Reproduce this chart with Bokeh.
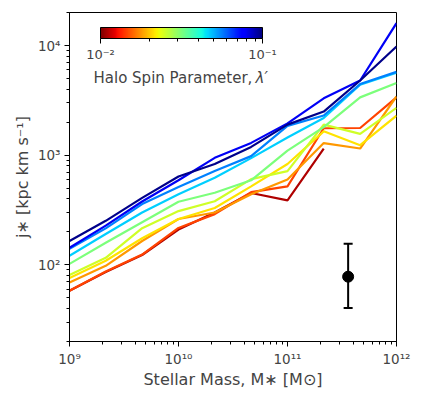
import numpy as np
from bokeh.plotting import figure
from bokeh.models import (ColorBar, LogColorMapper, FixedTicker, CustomJSTickFormatter,
                          Label, Whisker, TeeHead, ColumnDataSource)
from bokeh.embed import file_html
from bokeh.resources import INLINE

nan = float("nan")

# ---- data ----
stellar_mass = [1e9, 2.15e9, 4.64e9, 1e10, 2.15e10, 4.64e10, 1e11, 2.15e11, 4.64e11, 1e12]

spin_values = [0.011, 0.0145, 0.0178, 0.0214, 0.025, 0.0316, 0.047, 0.056, 0.079, 0.098]

j_dark_red    = [58, 86, 123, 210, 300, 452, 387, 1150, nan, nan]
j_red         = [58, 87, 124, 217, 290, 460, 520, 1760, 1770, 3365]
j_orange      = [69, 98, 165, 262, 300, 440, 600, 1290, 1150, 3430]
j_yellow      = [76, 109, 175, 262, 330, 520, 830, 1650, 1233, 2290]
j_yellowgreen = [81, 116, 216, 309, 380, 605, 716, 1900, 1564, 2700]
j_aquamarine  = [102, 159, 245, 376, 454, 590, 1100, 1800, 3365, 4550]
j_cyan        = [121, 191, 300, 440, 622, 940, 1450, 2180, 4400, 5650]
j_dodger      = [140, 215, 358, 512, 716, 980, 1850, 2300, 4450, 5750]
j_blue        = [143, 228, 378, 590, 946, 1294, 1950, 3300, 4800, 16000]
j_navy        = [165, 252, 408, 640, 830, 1190, 1900, 2500, 4800, 9800]

series = [j_dark_red, j_red, j_orange, j_yellow, j_yellowgreen,
          j_aquamarine, j_cyan, j_dodger, j_blue, j_navy]

obs_mass = [3.6e11]
obs_j = [78]
obs_low = [40.5]
obs_high = [156]

spin_low, spin_high = 0.01, 0.1
spin_major_ticks = [0.01, 0.1]
spin_minor_ticks = [0.02, 0.03, 0.04, 0.05, 0.06, 0.07, 0.08, 0.09]


def jet(x):
    r = np.interp(x, [0, 0.35, 0.66, 0.89, 1], [0, 0, 1, 1, 0.5])
    g = np.interp(x, [0, 0.125, 0.375, 0.64, 0.91, 1], [0, 0, 1, 1, 0, 0])
    b = np.interp(x, [0, 0.11, 0.34, 0.65, 1], [0.5, 1, 1, 0, 0])
    return "#%02x%02x%02x" % (int(round(r * 255)), int(round(g * 255)), int(round(b * 255)))


def spin_color(lam):
    t = np.log10(lam / spin_low) / np.log10(spin_high / spin_low)
    return jet(1 - t)


palette = [jet(1 - i / 255) for i in range(256)]

FONT = "DejaVu Sans"

p = figure(x_axis_type="log", y_axis_type="log",
           x_range=(1e9, 1e12), y_range=(20, 2e4),
           frame_width=327, frame_height=329,
           min_border_left=69, min_border_right=38, min_border_top=12, min_border_bottom=54,
           output_backend="svg", toolbar_location=None)

p.grid.visible = False
p.outline_line_color = "black"
p.outline_line_width = 1
p.background_fill_color = "white"
p.border_fill_color = "white"

sup_code = """
const e = Math.round(Math.log10(tick));
const sup = {'-':'\u207b','0':'\u2070','1':'\u00b9','2':'\u00b2','3':'\u00b3','4':'\u2074','5':'\u2075','6':'\u2076','7':'\u2077','8':'\u2078','9':'\u2079'};
return '10' + String(e).split('').map(c => sup[c]).join('');
"""

for ax in (p.xaxis[0], p.yaxis[0]):
    ax.formatter = CustomJSTickFormatter(code=sup_code)
    ax.major_label_text_font = FONT
    ax.major_label_text_font_size = "13.5px"
    ax.axis_label_text_font = FONT
    ax.axis_label_text_font_size = "16px"
    ax.axis_label_text_font_style = "normal"
    ax.major_tick_out = 5
    ax.major_tick_in = 0
    ax.minor_tick_out = 3
    ax.minor_tick_in = 0
    ax.axis_line_color = "black"
    ax.major_label_standoff = 4

p.xaxis.axis_label = "Stellar Mass, M\u2217 [M\u2299]"
p.yaxis.axis_label = "j\u2217 [kpc km s\u207b\u00b9]"
p.xaxis.axis_label_standoff = 0
p.yaxis.axis_label_standoff = 3

for lam, ys in zip(spin_values, series):
    p.line(stellar_mass, ys, line_color=spin_color(lam), line_width=2.2)

src = ColumnDataSource(dict(x=obs_mass, y=obs_j, lo=obs_low, hi=obs_high))
p.add_layout(Whisker(base="x", upper="hi", lower="lo", source=src, dimension="height",
                     line_color="black", line_width=2,
                     upper_head=TeeHead(size=9, line_width=2, line_color="black"),
                     lower_head=TeeHead(size=9, line_width=2, line_color="black")))
p.scatter("x", "y", source=src, size=11, color="black")

mapper = LogColorMapper(palette=palette, low=spin_low, high=spin_high)
cb = ColorBar(color_mapper=mapper, orientation="horizontal",
              location=(31, 277), width=162, height=11, padding=0,
              ticker=FixedTicker(ticks=spin_major_ticks, minor_ticks=spin_minor_ticks),
              formatter=CustomJSTickFormatter(code=sup_code),
              major_label_text_font=FONT, major_label_text_font_size="13px",
              major_tick_out=5, major_tick_in=0, major_tick_line_color="black",
              minor_tick_out=3, minor_tick_in=0, minor_tick_line_color="black",
              bar_line_color="black", bar_line_width=1,
              background_fill_alpha=0, border_line_color=None,
              label_standoff=3)
p.add_layout(cb)

p.add_layout(Label(x=24, y=264, x_units="screen", y_units="screen",
                   text="Halo Spin Parameter,", text_font=FONT, text_font_size="15px",
                   text_baseline="alphabetic"))
p.add_layout(Label(x=186, y=264, x_units="screen", y_units="screen",
                   text="\u03bb\u2032", text_font=FONT, text_font_size="15px",
                   text_font_style="italic", text_baseline="alphabetic"))

open("out.html", "w").write(file_html(p, INLINE))
